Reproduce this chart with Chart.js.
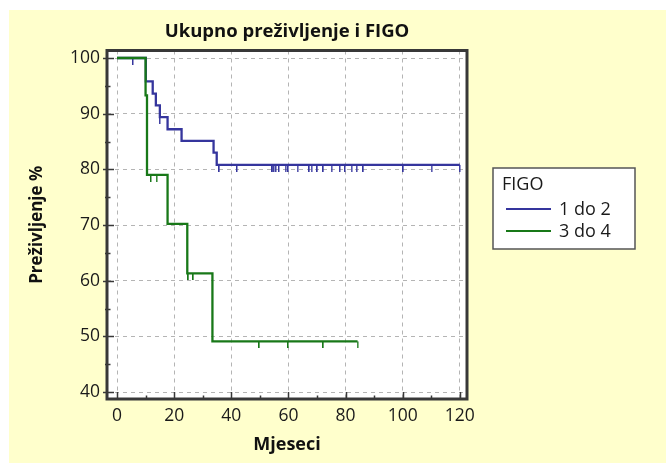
<!DOCTYPE html>
<html>
<head>
<meta charset="utf-8">
<script src="https://cdn.jsdelivr.net/npm/chart.js@4.4.1/dist/chart.umd.min.js"></script>
<style>
html, body { margin: 0; padding: 0; background: #fff; }
</style>
</head>
<body>
<canvas id="myChart" width="666" height="463"></canvas>
<script>
// Kaplan-Meier steps
let blueName = '1 do 2',
    blueX = [0, 10.1, 12.5, 13.6, 15, 17.7, 22.6, 33.8, 34.9, 120],
    blueY = [100, 95.8, 93.6, 91.5, 89.4, 87.2, 85.1, 83.0, 80.8, 80.8],
    blueCens = [5.6, 15, 35.8, 42, 54.1, 54.4, 54.9, 55.6, 56.7, 59, 59.9, 63.2, 67.3, 68.1, 70.1, 72.2, 75.1, 78, 79.8, 82.1, 83.9, 86.2, 100.2, 110.1, 120]

let greenName = '3 do 4',
    greenX = [0, 10, 10.5, 17.7, 24.6, 33.4, 84.2],
    greenY = [100, 93.3, 79, 70.2, 61.3, 49.1, 49.1],
    greenCens = [11.9, 13.9, 25, 26.7, 49.8, 59.9, 72.2, 84.2]

let xTicks = [0, 20, 40, 60, 80, 100, 120],
    yTicks = [40, 50, 60, 70, 80, 90, 100]

const FONT = "'Open Sans', 'DejaVu Sans', sans-serif"
const BLUE = '#35359d', GREEN = '#187818'

function stepAt(xs, ys, t){
    let v = ys[0];
    for(let i = 0; i < xs.length; i++){
        if(xs[i] <= t) v = ys[i];
    }
    return v;
}

function tickMark(color){
    // small vertical mark hanging below the point
    let c = document.createElement('canvas');
    c.width = 2; c.height = 14;
    let g = c.getContext('2d');
    g.fillStyle = color;
    g.fillRect(0, 7, 1.5, 7);
    return c;
}

function curve(name, xs, ys, color, order){
    return {
        label: name,
        data: xs.map((x, i) => ({x: x, y: ys[i]})),
        borderColor: color,
        borderWidth: 2.3,
        stepped: true,
        pointRadius: 0,
        fill: false,
        order: order
    };
}

function censored(xs, ys, cens, color, order){
    return {
        label: '',
        data: cens.map(t => ({x: t, y: stepAt(xs, ys, t)})),
        showLine: false,
        pointStyle: tickMark(color),
        pointRadius: 3,
        order: order
    };
}

const decor = {
    id: 'decor',
    beforeDraw(chart){
        let ctx = chart.ctx, a = chart.chartArea;
        ctx.save();
        ctx.fillStyle = '#ffffff';
        ctx.fillRect(0, 0, chart.width, chart.height);
        ctx.fillStyle = '#ffffcc';
        ctx.fillRect(9, 10, chart.width - 9, chart.height - 10);
        ctx.fillStyle = '#ffffff';
        ctx.fillRect(a.left, a.top, a.right - a.left, a.bottom - a.top);
        ctx.restore();
    },
    afterDraw(chart){
        let ctx = chart.ctx, a = chart.chartArea,
            sx = chart.scales.x, sy = chart.scales.y;
        ctx.save();
        ctx.strokeStyle = '#383838';
        ctx.lineWidth = 1.5;
        ctx.beginPath();
        for(let v = 0; v <= 120; v += 10){
            let px = Math.round(sx.getPixelForValue(v)) + 0.5;
            ctx.moveTo(px, a.bottom);
            ctx.lineTo(px, a.bottom - (v % 20 === 0 ? 7 : 3.5));
        }
        for(let v = 40; v <= 100; v += 5){
            let py = Math.round(sy.getPixelForValue(v)) + 0.5;
            ctx.moveTo(a.left - (v % 10 === 0 ? 4 : 2), py);
            ctx.lineTo(a.left + (v % 10 === 0 ? 7 : 3.5), py);
        }
        ctx.stroke();
        ctx.lineWidth = 3;
        ctx.strokeRect(a.left, a.top, a.right - a.left, a.bottom - a.top);

        // legend box
        let lx = 493, ly = 168, lw = 142, lh = 81;
        ctx.fillStyle = '#ffffff';
        ctx.fillRect(lx, ly, lw, lh);
        ctx.strokeStyle = '#555555';
        ctx.lineWidth = 1.5;
        ctx.strokeRect(lx, ly, lw, lh);
        ctx.fillStyle = '#1a1a1a';
        ctx.font = '18px ' + FONT;
        ctx.textBaseline = 'middle';
        ctx.fillText('FIGO', 502, 185);
        let items = chart.data.datasets.filter(d => d.label);
        items.sort((p, q) => p.label.localeCompare(q.label));
        items.forEach((d, i) => {
            let yy = 209 + i * 22;
            ctx.strokeStyle = d.borderColor;
            ctx.lineWidth = 2;
            ctx.beginPath();
            ctx.moveTo(506, yy);
            ctx.lineTo(551, yy);
            ctx.stroke();
            ctx.fillText(d.label, 559, yy + 1);
        });
        ctx.restore();
    }
};

const ctx = document.getElementById('myChart').getContext('2d');

const myChart = new Chart(ctx, {
    type: 'line',
    data: {
        datasets: [
            curve(greenName, greenX, greenY, GREEN, 0),
            censored(greenX, greenY, greenCens, GREEN, 1),
            curve(blueName, blueX, blueY, BLUE, 2),
            censored(blueX, blueY, blueCens, BLUE, 3)
        ]
    },
    options: {
        responsive: false,
        animation: false,
        events: [],
        layout: { padding: { right: 199 } },
        plugins: {
            legend: { display: false },
            tooltip: { enabled: false },
            title: {
                display: true,
                text: 'Ukupno preživljenje i FIGO',
                fullSize: false,
                color: '#111',
                font: { family: FONT, size: 18.5, weight: 'bold', lineHeight: 1 },
                padding: { top: 22, bottom: 10 }
            }
        },
        scales: {
            x: {
                type: 'linear',
                min: -3.5,
                max: 122.5,
                afterBuildTicks: s => { s.ticks = xTicks.map(v => ({value: v})) },
                afterFit: s => { s.height = 64 },
                grid: { color: '#b4b4b4', drawTicks: false },
                border: { display: false, dash: [4, 4] },
                ticks: { color: '#1a1a1a', padding: 7, font: { family: FONT, size: 17.5 } },
                title: {
                    display: true, text: 'Mjeseci', color: '#111',
                    font: { family: FONT, size: 18, weight: 'bold' },
                    padding: { top: 0, bottom: 7 }
                }
            },
            y: {
                min: 38.75,
                max: 101.35,
                afterBuildTicks: s => { s.ticks = yTicks.map(v => ({value: v})) },
                afterFit: s => { s.width = 107 },
                grid: { color: '#b4b4b4', drawTicks: false },
                border: { display: false, dash: [4, 4] },
                ticks: { color: '#1a1a1a', padding: 7, font: { family: FONT, size: 17.5 } },
                title: {
                    display: true, text: 'Preživljenje %', color: '#111',
                    font: { family: FONT, size: 17, weight: 'bold' },
                    padding: { top: 27, bottom: 0 }
                }
            }
        }
    },
    plugins: [decor]
});
</script>
</body>
</html>
